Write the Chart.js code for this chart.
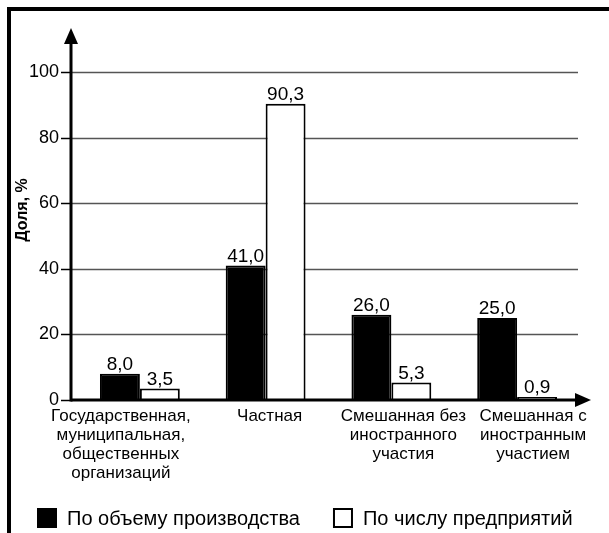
<!DOCTYPE html>
<html lang="ru">
<head>
<meta charset="utf-8">
<script src="https://cdn.jsdelivr.net/npm/chart.js@4/dist/chart.umd.min.js"></script>
<style>
  html, body { margin: 0; padding: 0; background: #fff; }
  #wrap { width: 609px; height: 533px; position: relative; }
</style>
</head>
<body>
<div id="wrap"><canvas id="c" width="609" height="533"></canvas></div>
<script>
// Доля форм собственности, %
const categories = [
  ['Государственная,', 'муниципальная,', 'общественных', 'организаций'],
  ['Частная'],
  ['Смешанная без', 'иностранного', 'участия'],
  ['Смешанная с', 'иностранным', 'участием']
];
const productionShare = [8.0, 41.0, 26.0, 25.0];
const enterpriseShare = [3.5, 90.3, 5.3, 0.9];
const seriesNames = ['По объему производства', 'По числу предприятий'];
const yTicks = [0, 20, 40, 60, 80, 100];
const yTitle = 'Доля, %';

const FONT = "'Liberation Sans', Arial, sans-serif";
Chart.defaults.font.family = FONT;
Chart.defaults.color = '#000';

// horizontal nudge of each category caption relative to its bar pair
const captionShift = [-19, 4, 12, 16];

const fmt = v => v.toFixed(1).replace('.', ',');

// Frame, axes with arrows, gridlines, tick marks, value labels, captions, axis title and legend
const decor = {
  id: 'decor',
  beforeDatasetsDraw(chart) {
    const {ctx, scales: {y}, chartArea} = chart;
    const ax = chartArea.left - 6;
    ctx.save();
    ctx.strokeStyle = '#555';
    ctx.lineWidth = 1.5;
    yTicks.forEach(v => {
      if (v === 0) return;
      const py = Math.round(y.getPixelForValue(v)) + 0.5;
      ctx.beginPath();
      ctx.moveTo(ax, py);
      ctx.lineTo(chartArea.right - 2, py);
      ctx.stroke();
    });
    ctx.restore();
  },
  afterDatasetsDraw(chart) {
    const {ctx, scales: {x, y}, chartArea} = chart;
    const ax = chartArea.left - 6;
    const ay = y.getPixelForValue(0);
    ctx.save();
    // page frame (top and left edges)
    ctx.fillStyle = '#000';
    ctx.fillRect(7, 7, 602, 4);
    ctx.fillRect(7, 7, 4, 526);

    // tick marks
    ctx.strokeStyle = '#000';
    ctx.lineWidth = 1.5;
    yTicks.forEach(v => {
      const py = Math.round(y.getPixelForValue(v)) + 0.5;
      ctx.beginPath();
      ctx.moveTo(ax - 10, py);
      ctx.lineTo(ax, py);
      ctx.stroke();
    });

    // y axis with arrow
    ctx.lineWidth = 3;
    ctx.beginPath();
    ctx.moveTo(ax, ay + 1.5);
    ctx.lineTo(ax, 40);
    ctx.stroke();
    ctx.beginPath();
    ctx.moveTo(ax, 28);
    ctx.lineTo(ax - 7, 44);
    ctx.lineTo(ax + 7, 44);
    ctx.closePath();
    ctx.fill();

    // x axis with arrow
    ctx.beginPath();
    ctx.moveTo(ax, ay);
    ctx.lineTo(578, ay);
    ctx.stroke();
    ctx.beginPath();
    ctx.moveTo(591, ay);
    ctx.lineTo(575, ay - 7);
    ctx.lineTo(575, ay + 7);
    ctx.closePath();
    ctx.fill();

    // value labels above bars
    ctx.font = '19px ' + FONT;
    ctx.textAlign = 'center';
    ctx.textBaseline = 'alphabetic';
    chart.data.datasets.forEach((ds, di) => {
      chart.getDatasetMeta(di).data.forEach((bar, i) => {
        ctx.fillText(fmt(ds.data[i]), bar.x, bar.y - 4);
      });
    });

    // category captions under the axis
    ctx.font = '17px ' + FONT;
    ctx.textBaseline = 'middle';
    chart.data.labels.forEach((lines, i) => {
      const cx = x.getPixelForValue(i) + captionShift[i];
      lines.forEach((line, k) => ctx.fillText(line, cx, ay + 16 + k * 19));
    });

    // y axis title
    ctx.save();
    ctx.font = 'bold 16px ' + FONT;
    ctx.textBaseline = 'middle';
    ctx.translate(23, 210);
    ctx.rotate(-Math.PI / 2);
    ctx.fillText(yTitle, 0, 0);
    ctx.restore();

    // legend
    const box = 20, gapText = 10, gapItems = 33, legendY = 508;
    ctx.font = '20px ' + FONT;
    ctx.textAlign = 'left';
    ctx.textBaseline = 'middle';
    const items = chart.data.datasets.map(ds => ({
      text: ds.label, fill: ds.backgroundColor, stroke: ds.borderColor,
      w: box + gapText + ctx.measureText(ds.label).width
    }));
    const total = items.reduce((s, it) => s + it.w, 0) + gapItems * (items.length - 1);
    let lx = Math.round((chart.width - total) / 2);
    items.forEach(it => {
      ctx.fillStyle = it.fill;
      ctx.fillRect(lx, legendY, box, box);
      ctx.strokeStyle = it.stroke;
      ctx.lineWidth = 2;
      ctx.strokeRect(lx + 1, legendY + 1, box - 2, box - 2);
      ctx.fillStyle = '#000';
      ctx.fillText(it.text, lx + box + gapText, legendY + box / 2 + 1);
      lx += it.w + gapItems;
    });
    ctx.restore();
  }
};

new Chart(document.getElementById('c'), {
  type: 'bar',
  data: {
    labels: categories,
    datasets: [
      {
        label: seriesNames[0],
        data: productionShare,
        backgroundColor: '#000',
        borderColor: '#000',
        borderWidth: 2
      },
      {
        label: seriesNames[1],
        data: enterpriseShare,
        backgroundColor: '#fff',
        borderColor: '#000',
        borderWidth: 2
      }
    ]
  },
  options: {
    responsive: false,
    animation: false,
    devicePixelRatio: 1,
    categoryPercentage: 0.635,
    barPercentage: 1,
    layout: { padding: { left: 12, right: 29, top: 72, bottom: 0 } },
    scales: {
      x: {
        grid: { display: false, drawTicks: false },
        border: { display: false },
        ticks: { display: false },
        afterFit(scale) { scale.height = 133; }
      },
      y: {
        min: 0,
        max: 100,
        afterBuildTicks(scale) { scale.ticks = yTicks.map(v => ({ value: v })); },
        grid: { display: false, drawTicks: false },
        border: { display: false },
        ticks: { font: { size: 18 }, padding: 18, color: '#000' },
        afterFit(scale) { scale.width = 65; }
      }
    },
    plugins: {
      legend: { display: false },
      tooltip: { enabled: false }
    }
  },
  plugins: [decor]
});
</script>
</body>
</html>
